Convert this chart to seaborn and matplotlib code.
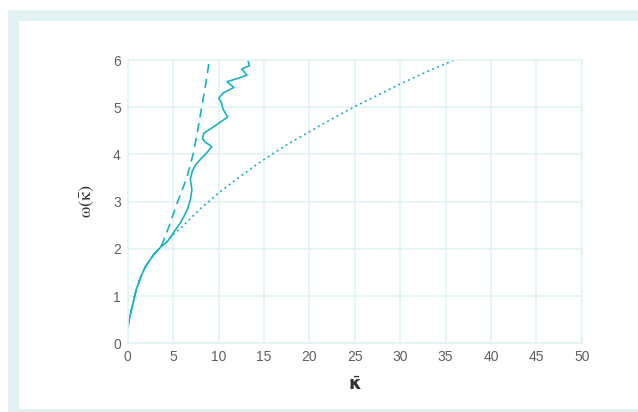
import matplotlib
matplotlib.use("Agg")
import matplotlib.pyplot as plt
from matplotlib.patches import Rectangle
import pandas as pd
import seaborn as sns

# Dispersion curves: exact (solid), small-k approximation (dashed), continuum limit (dotted)
kappa_solid = [0.0, 0.24, 0.59, 0.93, 1.45, 1.97, 2.83, 3.69, 4.38, 4.9, 5.24, 5.76,
               6.28, 6.62, 6.9, 7.07, 6.9, 7.14, 7.48, 8.17, 8.69, 9.27, 8.52, 8.23,
               8.4, 9.72, 11.0, 10.5, 10.35, 10.03, 10.5, 11.7, 10.93, 12.3, 13.14,
               12.55, 13.4, 13.26]
omega_solid = [0.32, 0.57, 0.85, 1.13, 1.41, 1.63, 1.87, 2.05, 2.16, 2.30, 2.40, 2.54,
               2.72, 2.86, 3.04, 3.25, 3.48, 3.66, 3.78, 3.93, 4.03, 4.17, 4.26, 4.34,
               4.45, 4.62, 4.79, 4.96, 5.08, 5.19, 5.30, 5.42, 5.54, 5.62, 5.68,
               5.81, 5.88, 5.98]

kappa_dashed = [0.0, 0.24, 0.59, 0.93, 1.45, 1.97, 2.83, 3.4, 3.8, 4.5, 5.5, 6.5, 7.2,
                7.7, 8.15, 8.6, 9.0]
omega_dashed = [0.32, 0.57, 0.85, 1.13, 1.41, 1.63, 1.87, 2.0, 2.1, 2.45, 3.0, 3.5, 4.0,
                4.5, 5.0, 5.5, 6.0]

kappa_dotted = [0.0, 0.24, 0.59, 0.93, 1.45, 1.97, 2.83, 3.69, 4.38, 5.0, 6.0, 8.0,
                10.0, 12.0, 14.0, 16.0, 18.0, 20.0, 22.0, 24.0, 26.0, 28.0, 30.0,
                32.0, 34.0, 36.0]
omega_dotted = [0.32, 0.57, 0.85, 1.13, 1.41, 1.63, 1.87, 2.05, 2.16, 2.30, 2.47, 2.85,
                3.18, 3.48, 3.76, 4.02, 4.26, 4.48, 4.70, 4.91, 5.11, 5.30, 5.49,
                5.67, 5.84, 6.0]

x_ticks = [0, 5, 10, 15, 20, 25, 30, 35, 40, 45, 50]
y_ticks = [0, 1, 2, 3, 4, 5, 6]

LINE = "#1ab1c6"
GRID = "#e2f3f4"
FRAME = "#e0f2f2"
TEXT = "#606060"

sns.set_theme(style="white")
plt.rcParams["font.family"] = ["Liberation Sans", "DejaVu Sans"]
plt.rcParams["mathtext.fontset"] = "stix"

fig = plt.figure(figsize=(6.38, 4.12), dpi=100)
ax = fig.add_axes([127.7 / 638, 1 - 343.3 / 412, (581.7 - 127.7) / 638, (343.3 - 60) / 412])

# decorative frame around the figure: left band, top band, thin bottom band
fig.patches.append(Rectangle((8 / 638, 0), 11 / 638, 1 - 10 / 412, transform=fig.transFigure,
                             facecolor=FRAME, edgecolor="none", zorder=0))
fig.patches.append(Rectangle((8 / 638, 1 - 21 / 412), 1, 11 / 412, transform=fig.transFigure,
                             facecolor=FRAME, edgecolor="none", zorder=0))
fig.patches.append(Rectangle((8 / 638, 0), 1, 3 / 412, transform=fig.transFigure,
                             facecolor=FRAME, edgecolor="none", zorder=0))

solid = pd.DataFrame({"kappa": kappa_solid, "omega": omega_solid})
dashed = pd.DataFrame({"kappa": kappa_dashed, "omega": omega_dashed})
dotted = pd.DataFrame({"kappa": kappa_dotted, "omega": omega_dotted})

sns.lineplot(data=dotted, x="kappa", y="omega", sort=False, estimator=None, ax=ax,
             color=LINE, lw=1.2, linestyle=(0, (1.2, 2.0)))
sns.lineplot(data=dashed, x="kappa", y="omega", sort=False, estimator=None, ax=ax,
             color=LINE, lw=1.2, linestyle=(0, (5.5, 3.5)))
sns.lineplot(data=solid, x="kappa", y="omega", sort=False, estimator=None, ax=ax,
             color=LINE, lw=1.2)

ax.set_xlim(0, 50)
ax.set_ylim(0, 6)
ax.set_xticks(x_ticks)
ax.set_yticks(y_ticks)
ax.set_xticklabels([str(t) for t in x_ticks])
ax.set_yticklabels([str(t) for t in y_ticks])
ax.grid(True, color=GRID, lw=1.2)
ax.set_axisbelow(True)
for s in ax.spines.values():
    s.set_color(GRID)
    s.set_linewidth(1.2)
ax.tick_params(axis="both", length=0, colors=TEXT, labelsize=10, pad=5)

ax.set_xlabel(r"$\bar{\mathbf{\kappa}}$", fontsize=13, color="#333333", labelpad=9,
              math_fontfamily="dejavusans")
ax.set_ylabel(r"$\mathrm{\omega}(\bar{\mathrm{\kappa}})$", fontsize=13, color="#333333",
              labelpad=12)

fig.savefig("out.png", dpi=100)
